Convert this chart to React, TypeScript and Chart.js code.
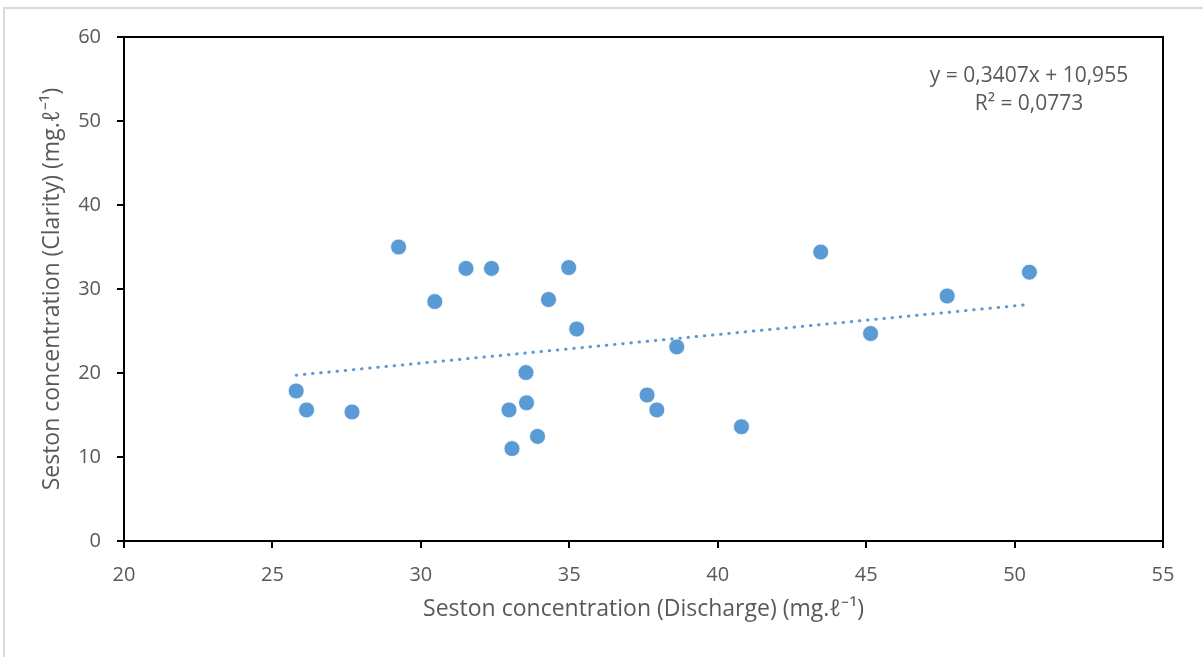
import React, { useEffect, useRef } from "react";
import { Chart, registerables } from "chart.js";

Chart.register(...registerables);

const dischargeX = [25.8, 26.15, 27.68, 29.25, 30.47, 31.52, 32.38, 32.97, 33.07, 33.54, 33.56, 33.93, 34.3, 34.98, 35.25, 37.62, 37.95, 38.62, 40.8, 43.47, 45.15, 47.73, 50.5];
const clarityY = [17.86, 15.6, 15.36, 35.0, 28.5, 32.45, 32.45, 15.6, 11.0, 20.05, 16.45, 12.45, 28.75, 32.55, 25.24, 17.38, 15.6, 23.1, 13.6, 34.4, 24.7, 29.17, 32.0];
const trendX = [25.8, 50.5];
const trendY = [19.74, 28.16];
const equationLines = ["y = 0,3407x + 10,955", "R² = 0,0773"];
const xTitle = "Seston concentration (Discharge) (mg.ℓ⁻¹)";
const yTitle = "Seston concentration (Clarity) (mg.ℓ⁻¹)";

const FONT = "'Open Sans', sans-serif";
const TEXT = "#595959";
const BLUE = "#5B9BD5";

export default function App() {
  const ref = useRef<HTMLCanvasElement | null>(null);

  useEffect(() => {
    if (!ref.current) return;
    const boxPlugin = {
      id: "boxAndEq",
      afterDraw(chart: any) {
        const { ctx, chartArea } = chart;
        ctx.save();
        ctx.strokeStyle = "#000";
        ctx.lineWidth = 2;
        ctx.beginPath();
        ctx.moveTo(chartArea.left, chartArea.top);
        ctx.lineTo(chartArea.right, chartArea.top);
        ctx.lineTo(chartArea.right, chartArea.bottom);
        ctx.stroke();
        ctx.fillStyle = TEXT;
        ctx.font = `21px ${FONT}`;
        ctx.textAlign = "center";
        ctx.textBaseline = "middle";
        const cx = chartArea.right - 134;
        equationLines.forEach((t, i) => ctx.fillText(t, cx, chartArea.top + 39 + i * 28));
        ctx.restore();
      },
    };
    const chart = new Chart(ref.current, {
      type: "scatter",
      data: {
        datasets: [
          {
            label: "trend",
            type: "line",
            data: trendX.map((x, i) => ({ x, y: trendY[i] })),
            borderColor: BLUE,
            borderWidth: 3,
            borderDash: [0.5, 7.7],
            borderCapStyle: "round",
            pointRadius: 0,
            fill: false,
            order: 0,
          } as any,
          {
            label: "data",
            data: dischargeX.map((x, i) => ({ x, y: clarityY[i] })),
            backgroundColor: BLUE,
            borderColor: "rgba(255,255,255,0.8)",
            borderWidth: 1,
            pointRadius: 8,
            pointHoverRadius: 8,
            order: 1,
          },
        ],
      },
      options: {
        responsive: false,
        animation: false,
        maintainAspectRatio: false,
        layout: { padding: { left: 0, top: 37, right: 40, bottom: 0 } },
        plugins: { legend: { display: false }, tooltip: { enabled: false } },
        scales: {
          x: {
            type: "linear",
            min: 20,
            max: 55,
            ticks: { stepSize: 5, color: TEXT, font: { family: FONT, size: 20 }, padding: 15 },
            grid: { drawOnChartArea: false, drawTicks: true, tickLength: 7, color: "#000", lineWidth: 2 },
            border: { display: true, color: "#000", width: 2 },
            title: { display: true, text: xTitle, color: TEXT, font: { family: FONT, size: 23 }, padding: { top: 0, bottom: 34 } },
            afterFit(scale: any) { scale.height = 116; },
          },
          y: {
            type: "linear",
            min: 0,
            max: 60,
            ticks: { stepSize: 10, color: TEXT, font: { family: FONT, size: 20 }, padding: 16 },
            grid: { drawOnChartArea: false, drawTicks: true, tickLength: 7, color: "#000", lineWidth: 2 },
            border: { display: true, color: "#000", width: 2 },
            title: { display: true, text: yTitle, color: TEXT, font: { family: FONT, size: 23 }, padding: { top: 39, bottom: 0 } },
            afterFit(scale: any) { scale.width = 124; },
          },
        },
      },
      plugins: [boxPlugin],
    });
    return () => chart.destroy();
  }, []);

  return (
    <div style={{ position: "fixed", left: 0, top: 0, width: 1203, height: 657, overflow: "hidden", background: "#fff" }}>
      <div style={{ position: "absolute", left: 3, top: 7, width: 1260, height: 720, border: "2px solid #d9d9d9" }} />
      <canvas ref={ref} width={1203} height={657} style={{ position: "absolute", left: 0, top: 0, width: 1203, height: 657 }} />
    </div>
  );
}
